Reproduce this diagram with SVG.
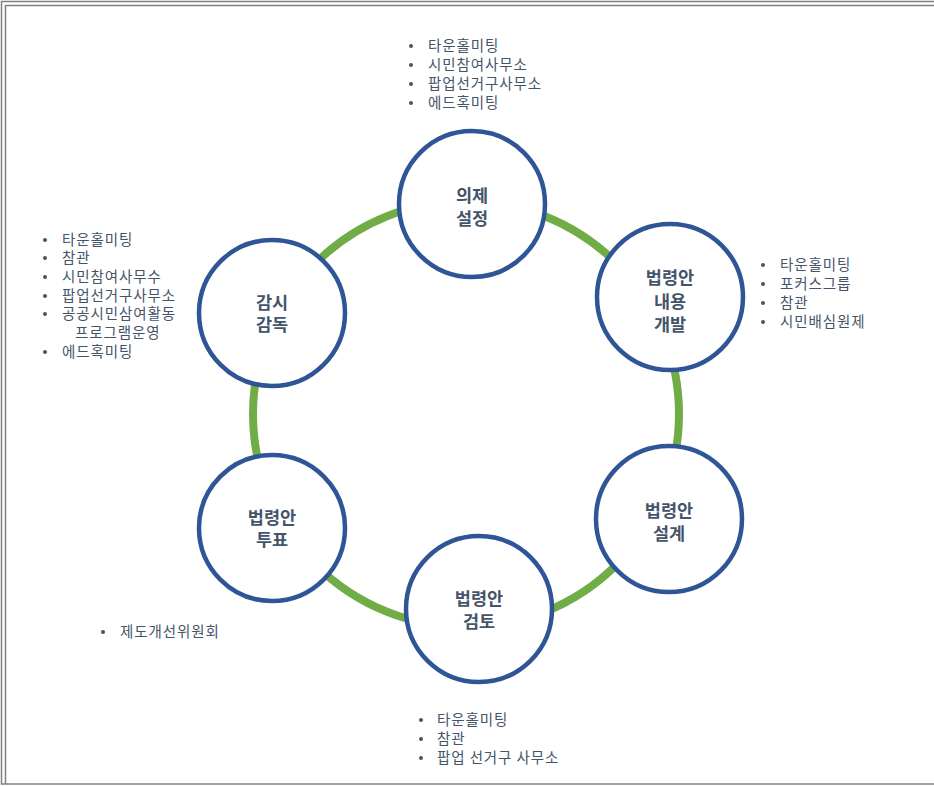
<svg xmlns="http://www.w3.org/2000/svg" width="934" height="786" viewBox="0 0 934 786">
<style>
.frame{fill:none;stroke:#808080;stroke-width:1.5}
.ring{fill:none;stroke:#70AD47;stroke-width:8}
.node{fill:#FFFFFF;stroke:#2F5597;stroke-width:4.5}
.nt{font-family:"Noto Sans CJK KR","Noto Sans",sans-serif;font-size:17.5px;font-weight:bold;fill:#44546A;text-anchor:middle}
.lt{font-family:"Noto Sans CJK KR","Noto Sans",sans-serif;font-size:14.5px;letter-spacing:0.9px;fill:#44546A}
.b{fill:#44546A}
</style>
<rect width="934" height="786" fill="#FFFFFF"/>
<g id="frame">
<path class="frame" d="M934 1.5 H1.5 V784 H934"/>
<path class="frame" d="M934 5.5 H5.5 V784"/>
</g>
<g id="connectors">
<circle class="ring" cx="466" cy="414" r="213"/>
</g>
<g id="node-agenda">
<circle class="node" cx="472" cy="204" r="73"/>
<text class="nt" x="472" y="202">의제</text>
<text class="nt" x="472" y="225">설정</text>
</g>
<g id="node-develop">
<circle class="node" cx="670" cy="297" r="73"/>
<text class="nt" x="670" y="284">법령안</text>
<text class="nt" x="670" y="308">내용</text>
<text class="nt" x="670" y="331">개발</text>
</g>
<g id="node-design">
<circle class="node" cx="669" cy="519" r="73"/>
<text class="nt" x="669" y="517">법령안</text>
<text class="nt" x="669" y="540">설계</text>
</g>
<g id="node-review">
<circle class="node" cx="479" cy="609" r="73"/>
<text class="nt" x="479" y="605">법령안</text>
<text class="nt" x="479" y="628">검토</text>
</g>
<g id="node-vote">
<circle class="node" cx="272" cy="528" r="73"/>
<text class="nt" x="272" y="524">법령안</text>
<text class="nt" x="272" y="546">투표</text>
</g>
<g id="node-monitor">
<circle class="node" cx="272" cy="313" r="73"/>
<text class="nt" x="272" y="309">감시</text>
<text class="nt" x="272" y="331">감독</text>
</g>
<g id="list-top">
<g class="b"><circle cx="411" cy="46" r="2"/><circle cx="411" cy="65" r="2"/><circle cx="411" cy="84" r="2"/><circle cx="411" cy="103" r="2"/></g>
<g class="lt">
<text x="428" y="51">타운홀미팅</text>
<text x="428" y="70">시민참여사무소</text>
<text x="428" y="89">팝업선거구사무소</text>
<text x="428" y="108">에드혹미팅</text>
</g>
</g>
<g id="list-left">
<g class="b"><circle cx="45" cy="240" r="2"/><circle cx="45" cy="258" r="2"/><circle cx="45" cy="277" r="2"/><circle cx="45" cy="296" r="2"/><circle cx="45" cy="314" r="2"/><circle cx="45" cy="352" r="2"/></g>
<g class="lt">
<text x="62" y="245">타운홀미팅</text>
<text x="62" y="263">참관</text>
<text x="62" y="282">시민참여사무수</text>
<text x="62" y="301">팝업선거구사무소</text>
<text x="62" y="319">공공시민삼여활동</text>
<text x="75" y="338">프로그램운영</text>
<text x="62" y="357">에드혹미팅</text>
</g>
</g>
<g id="list-right">
<g class="b"><circle cx="763" cy="265" r="2"/><circle cx="763" cy="284" r="2"/><circle cx="763" cy="303" r="2"/><circle cx="763" cy="322" r="2"/></g>
<g class="lt">
<text x="780" y="270">타운홀미팅</text>
<text x="780" y="289">포커스그룹</text>
<text x="780" y="308">참관</text>
<text x="780" y="327">시민배심원제</text>
</g>
</g>
<g id="list-bottom">
<g class="b"><circle cx="421" cy="720" r="2"/><circle cx="421" cy="739" r="2"/><circle cx="421" cy="758" r="2"/></g>
<g class="lt">
<text x="437" y="725">타운홀미팅</text>
<text x="437" y="744">참관</text>
<text x="437" y="763">팝업 선거구 사무소</text>
</g>
</g>
<g id="list-vote">
<circle class="b" cx="103" cy="632" r="2"/>
<text class="lt" x="120" y="637">제도개선위원회</text>
</g>
</svg>
